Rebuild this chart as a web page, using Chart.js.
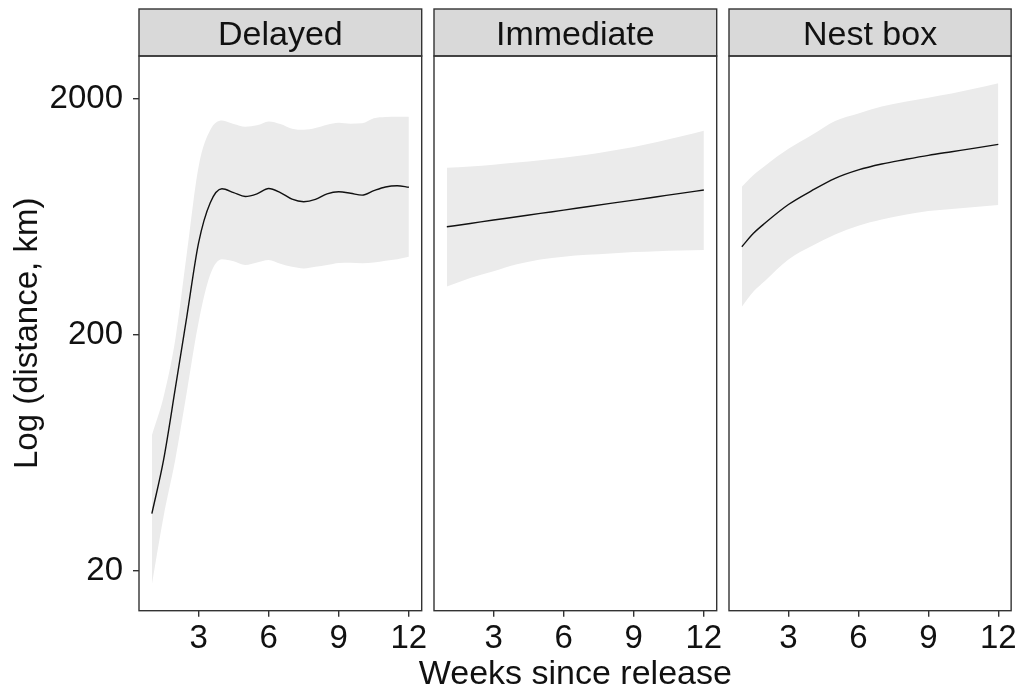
<!DOCTYPE html>
<html>
<head>
<meta charset="utf-8">
<script src="https://cdn.jsdelivr.net/npm/chart.js@4.4.1/dist/chart.umd.min.js"></script>
<style>
  html, body { margin: 0; padding: 0; background: #fff; }
  #wrap { position: relative; width: 1019px; height: 690px; }
  #wrap canvas { position: absolute; left: 0; top: 0; }
</style>
</head>
<body>
<div id="wrap">
  <canvas id="panel0" width="1019" height="690"></canvas>
  <canvas id="panel1" width="1019" height="690"></canvas>
  <canvas id="panel2" width="1019" height="690"></canvas>
</div>
<script>
// ------------------- DATA -------------------
const panelNames = ["Delayed", "Immediate", "Nest box"];
const xTickValues = [3, 6, 9, 12];
const yTickValues = [20, 200, 2000];
const xTitle = "Weeks since release";
const yTitle = "Log (distance, km)";

const delayedWeeks = [1, 1.5, 2, 2.5, 3, 3.5, 4, 4.5, 5, 5.5, 6, 6.5, 7, 7.5, 8, 8.5, 9, 9.5, 10, 10.5, 11, 11.5, 12];
const delayedFit   = [35, 59, 118, 240, 490, 725, 830, 800, 770, 790, 832, 800, 750, 732, 748, 790, 806, 795, 780, 815, 845, 855, 842];
const delayedUpper = [75, 109, 190, 445, 1030, 1471, 1615, 1560, 1520, 1540, 1600, 1560, 1490, 1475, 1500, 1550, 1580, 1565, 1570, 1650, 1670, 1675, 1675];
const delayedLower = [17.5, 34, 59, 115, 226, 360, 418, 410, 395, 405, 415, 400, 388, 382, 388, 395, 403, 404, 402, 405, 412, 418, 428];

const immediateWeeks = [1, 2, 3, 4, 5, 6, 7, 8, 9, 10, 11, 12];
const immediateFit   = [573, 592, 612, 632, 653, 674, 697, 720, 743, 768, 794, 820];
const immediateUpper = [1019, 1032, 1050, 1072, 1096, 1123, 1157, 1200, 1248, 1310, 1380, 1462];
const immediateLower = [320, 348, 372, 398, 417, 428, 436, 442, 448, 452, 455, 457];

const nestWeeks = [1, 1.5, 2, 3, 4, 5, 6, 7, 8, 9, 10, 11, 12];
const nestFit   = [472, 538, 595, 712, 815, 919, 998, 1057, 1104, 1150, 1191, 1233, 1280];
const nestUpper = [847, 950, 1040, 1225, 1401, 1607, 1729, 1850, 1937, 2016, 2099, 2203, 2319];
const nestLower = [263, 305, 339, 417, 475, 531, 579, 615, 644, 668, 682, 695, 709];

// ------------------- LAYOUT -------------------
const W = 1019, H = 690;
const panelLeft = [139, 434, 729];
const panelRight = [421.7, 716.7, 1011.7];
const plotTop = 56, plotBottom = 610.7, stripTop = 9;
const FONT = "'Liberation Sans', Arial, sans-serif";
const INK = "#333333";
const TEXT = "#111111";

const toPoints = (xs, ys) => xs.map((x, i) => ({ x: x, y: ys[i] }));

// strip header + panel frame (+ shared x title on the middle panel)
const facetPlugin = {
  id: "facet",
  afterDraw(chart, args, opts) {
    const { ctx, chartArea } = chart;
    const l = chartArea.left, r = chartArea.right;
    ctx.save();
    ctx.fillStyle = "#D9D9D9";
    ctx.fillRect(l, stripTop, r - l, plotTop - stripTop);
    ctx.lineWidth = 1.4;
    ctx.strokeStyle = INK;
    ctx.strokeRect(l, stripTop, r - l, plotTop - stripTop);
    ctx.strokeRect(l, chartArea.top, r - l, chartArea.bottom - chartArea.top);
    ctx.fillStyle = TEXT;
    ctx.font = "34px " + FONT;
    ctx.textAlign = "center";
    ctx.textBaseline = "alphabetic";
    ctx.fillText(opts.text, (l + r) / 2, 45);
    if (opts.xTitle) {
      // the shared title is wider than one panel, so draw it without a maxWidth
      ctx.fillText(opts.xTitle, (panelLeft[0] + panelRight[2]) / 2, 684);
    }
    ctx.restore();
  }
};

function makePanel(i, weeks, fit, upper, lower) {
  const showY = i === 0;
  return new Chart(document.getElementById("panel" + i), {
    type: "line",
    data: {
      datasets: [
        // fitted line first so it is painted last (on top of the ribbon)
        { data: toPoints(weeks, fit), borderColor: "#111111", borderWidth: 1.4, pointRadius: 0,
          fill: false, cubicInterpolationMode: "monotone" },
        { data: toPoints(weeks, lower), borderWidth: 0, pointRadius: 0, fill: false, cubicInterpolationMode: "monotone" },
        { data: toPoints(weeks, upper), borderWidth: 0, pointRadius: 0, fill: "-1",
          backgroundColor: "#EBEBEB", cubicInterpolationMode: "monotone" }
      ]
    },
    options: {
      responsive: false,
      animation: false,
      events: [],
      layout: {
        padding: { left: showY ? 0 : panelLeft[i], right: W - panelRight[i], top: plotTop, bottom: 0 }
      },
      plugins: {
        legend: { display: false },
        tooltip: { enabled: false },
        facet: { text: panelNames[i], xTitle: i === 1 ? xTitle : null }
      },
      scales: {
        x: {
          type: "linear",
          min: 0.45,
          max: 12.55,
          afterBuildTicks: s => { s.ticks = xTickValues.map(v => ({ value: v })); },
          afterFit: s => { s.height = H - plotBottom; },
          ticks: { color: TEXT, font: { family: FONT, size: 33 }, padding: 2, maxRotation: 0,
                   callback: v => String(v) },
          grid: { drawOnChartArea: false, drawTicks: true, tickLength: 6, color: INK, lineWidth: 1.4 },
          border: { display: false },
          title: { display: false }
        },
        y: {
          type: "logarithmic",
          display: showY,
          min: 13.6,
          max: 3027,
          afterBuildTicks: s => { s.ticks = yTickValues.map(v => ({ value: v })); },
          afterFit: s => { if (showY) s.width = panelLeft[0]; },
          ticks: { color: TEXT, font: { family: FONT, size: 33 }, padding: 10,
                   callback: v => String(v) },
          grid: { drawOnChartArea: false, drawTicks: true, tickLength: 6, color: INK, lineWidth: 1.4 },
          border: { display: false },
          title: {
            display: showY,
            text: yTitle,
            color: TEXT,
            font: { family: FONT, size: 33, lineHeight: 1 },
            padding: { top: 11, bottom: 0 }
          }
        }
      }
    },
    plugins: [facetPlugin]
  });
}

makePanel(0, delayedWeeks, delayedFit, delayedUpper, delayedLower);
makePanel(1, immediateWeeks, immediateFit, immediateUpper, immediateLower);
makePanel(2, nestWeeks, nestFit, nestUpper, nestLower);
</script>
</body>
</html>
